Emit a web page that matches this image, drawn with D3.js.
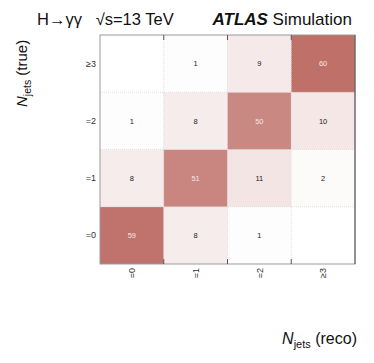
<!DOCTYPE html>
<html>
<head>
<meta charset="utf-8">
<script src="https://cdn.jsdelivr.net/npm/d3@7"></script>
<style>
  body { margin: 0; background: #fff; }
  text { font-family: "Liberation Sans", Arial, sans-serif; }
</style>
</head>
<body>
<div id="chart"></div>
<script>
// categories (reco on x, true on y)
let recoBins = ["=0", "=1", "=2", "\u22653"];
let trueBins = ["=0", "=1", "=2", "\u22653"];
// migration values, one row per true bin, columns are reco bins
let row_true0 = [59, 8, 1, 0];
let row_true1 = [8, 51, 11, 2];
let row_true2 = [1, 8, 50, 10];
let row_true3 = [0, 1, 9, 60];
let rows = [row_true0, row_true1, row_true2, row_true3];

let W = 374, H = 363;
let margin = {top: 35, right: 19, bottom: 99, left: 100},
    width = W - margin.left - margin.right,
    height = H - margin.top - margin.bottom;

let svg = d3.select("#chart").append("svg")
  .attr("width", W).attr("height", H);

let g = svg.append("g")
  .attr("transform", "translate(" + margin.left + "," + margin.top + ")");

let x = d3.scaleBand().domain(recoBins).range([0, width]).padding(0);
let y = d3.scaleBand().domain(trueBins).range([height, 0]).padding(0);
let color = d3.scaleLinear().domain([0, 60]).range(["#ffffff", "#bf7069"]);

// flatten into cells
let cells = [];
rows.forEach(function(r, i) {
  r.forEach(function(v, j) {
    cells.push({reco: recoBins[j], tru: trueBins[i], value: v});
  });
});

g.selectAll("rect.cell")
  .data(cells)
  .enter().append("rect")
  .attr("class", "cell")
  .attr("x", function(d) { return x(d.reco); })
  .attr("y", function(d) { return y(d.tru); })
  .attr("width", x.bandwidth())
  .attr("height", y.bandwidth())
  .attr("fill", function(d) { return color(d.value); });

// light dotted grid between cells
recoBins.slice(1).forEach(function(c) {
  g.append("line")
    .attr("x1", x(c)).attr("x2", x(c))
    .attr("y1", 0).attr("y2", height)
    .attr("stroke", "#d8d8d8").attr("stroke-width", 0.8)
    .attr("stroke-dasharray", "1,1");
});
trueBins.slice(1).forEach(function(c) {
  g.append("line")
    .attr("x1", 0).attr("x2", width)
    .attr("y1", y(c) + y.bandwidth()).attr("y2", y(c) + y.bandwidth())
    .attr("stroke", "#d8d8d8").attr("stroke-width", 0.8)
    .attr("stroke-dasharray", "1,1");
});

// cell numbers
g.selectAll("text.val")
  .data(cells.filter(function(d) { return d.value > 0; }))
  .enter().append("text")
  .attr("class", "val")
  .attr("x", function(d) { return x(d.reco) + x.bandwidth() / 2; })
  .attr("y", function(d) { return y(d.tru) + y.bandwidth() / 2; })
  .attr("dy", "0.35em")
  .attr("text-anchor", "middle")
  .attr("font-size", "7.5px")
  .attr("fill", function(d) { return d.value > 40 ? "#f4e6e4" : "#222"; })
  .text(function(d) { return d.value; });

// frame
g.append("rect")
  .attr("x", 0).attr("y", 0).attr("width", width).attr("height", height)
  .attr("fill", "none").attr("stroke", "#9a9a9a").attr("stroke-width", 1);
g.append("line")
  .attr("x1", width).attr("x2", width).attr("y1", 0).attr("y2", height)
  .attr("stroke", "#555").attr("stroke-width", 1);

// ticks at bin edges on top and bottom
recoBins.slice(1).forEach(function(c) {
  g.append("line").attr("x1", x(c)).attr("x2", x(c)).attr("y1", 0).attr("y2", 5)
    .attr("stroke", "#555");
  g.append("line").attr("x1", x(c)).attr("x2", x(c)).attr("y1", height - 5).attr("y2", height)
    .attr("stroke", "#555");
});

// x axis labels (rotated)
let xAxis = g.append("g")
  .attr("transform", "translate(0," + height + ")")
  .call(d3.axisBottom(x).tickSize(0).tickPadding(0));
xAxis.select(".domain").remove();
xAxis.selectAll("text")
  .attr("font-size", "9px").attr("fill", "#333")
  .attr("transform", "rotate(-90)")
  .attr("text-anchor", "end")
  .attr("x", -4).attr("y", 0).attr("dy", "0.35em");

// y axis labels
let yAxis = g.append("g")
  .call(d3.axisLeft(y).tickSize(0).tickPadding(4));
yAxis.select(".domain").remove();
yAxis.selectAll("text").attr("font-size", "9px").attr("fill", "#333");

// axis titles
let yt = svg.append("text")
  .attr("transform", "translate(27,107) rotate(-90)")
  .attr("text-anchor", "start")
  .attr("font-size", "15px").attr("fill", "#111");
yt.append("tspan").attr("font-style", "italic").text("N");
yt.append("tspan").attr("font-size", "10.5px").attr("dy", 4).text("jets");
yt.append("tspan").attr("dy", -4).text(" (true)");

let xt = svg.append("text")
  .attr("x", 357).attr("y", 344)
  .attr("text-anchor", "end")
  .attr("font-size", "16px").attr("fill", "#111");
xt.append("tspan").attr("font-style", "italic").text("N");
xt.append("tspan").attr("font-size", "11px").attr("dy", 4).text("jets");
xt.append("tspan").attr("dy", -4).text(" (reco)");

// header
svg.append("text")
  .attr("x", 37).attr("y", 25)
  .attr("font-size", "16.5px").attr("fill", "#111")
  .attr("xml:space", "preserve")
  .text("H\u2192\u03b3\u03b3   \u221as=13 TeV");
let atl = svg.append("text")
  .attr("x", 352).attr("y", 25)
  .attr("text-anchor", "end")
  .attr("font-size", "17px").attr("fill", "#111");
atl.append("tspan").attr("font-weight", "bold").attr("font-style", "italic").text("ATLAS");
atl.append("tspan").text(" Simulation");
</script>
</body>
</html>
